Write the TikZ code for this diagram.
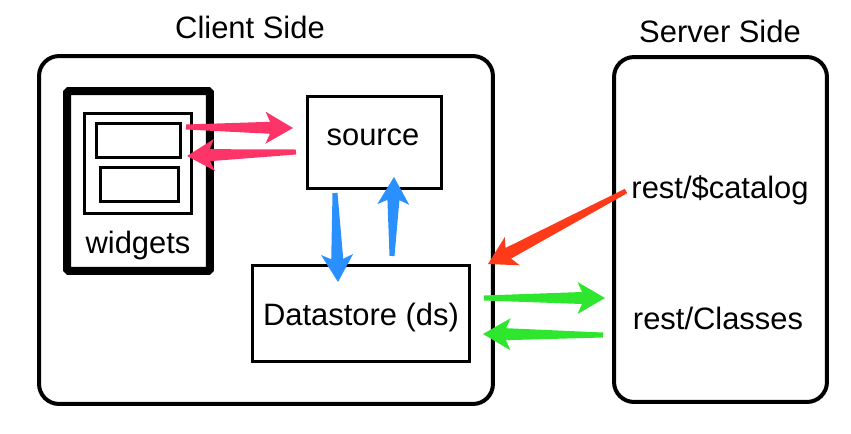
\documentclass[tikz,border=0pt]{standalone}
\usepackage{fontspec}
\setmainfont{Liberation Sans}
\usepackage{tikz}
\usetikzlibrary{calc}
\definecolor{pinkarr}{HTML}{FC3468}
\definecolor{bluearr}{HTML}{2A90FF}
\definecolor{redarr}{HTML}{FF3A18}
\definecolor{greenarr}{HTML}{2EE62E}
% tapered arrow: from, to, colour
\newcommand{\taper}[3]{%
  \fill[#3] ($(#1)!0.05cm!-90:(#2)$) -- ($(#2)!0.46cm!(#1)!0.12cm!90:(#1)$)
    -- ($(#2)!0.55cm!(#1)!0.32cm!90:(#1)$) -- (#2)
    -- ($(#2)!0.55cm!(#1)!0.32cm!-90:(#1)$) -- ($(#2)!0.46cm!(#1)!0.12cm!-90:(#1)$)
    -- ($(#1)!0.05cm!90:(#2)$) -- cycle;}

\begin{document}
\begin{tikzpicture}[x=0.02cm,y=-0.02cm,
			font=\fontsize{17.6pt}{21pt}\selectfont,
			panel/.style={draw,line width=0.08cm,rounded corners=0.4cm},
			box/.style={draw,line width=0.06cm},
			lbl/.style={anchor=base,inner sep=0pt}
			]
			\useasboundingbox (0,0) rectangle (851,433);
			% sides
			\node[panel,minimum width=9.08cm,minimum height=6.96cm] (client) at (266,230) {};
			\node[panel,minimum width=4.26cm,minimum height=6.9cm] (server) at (720.5,229.5) {};
			\node[lbl] (clienttitle) at (250,38) {Client Side};
			\node[lbl] (servertitle) at (720,42) {Server Side};
			% widgets
			\node[draw,line width=0.16cm,rounded corners=1pt,minimum width=2.86cm,minimum height=3.6cm] (widgets) at (138.5,181) {};
			\node[box,minimum width=2.16cm,minimum height=2.02cm] (frame) at (138,163.5) {};
			\node[box,minimum width=1.7cm,minimum height=0.68cm] (wa) at (138.5,140) {};
			\node[box,minimum width=1.58cm,minimum height=0.68cm] (wb) at (139.5,184) {};
			\node[lbl] (wlbl) at (138,253) {widgets};
			% client boxes
			\node[box,minimum width=2.7cm,minimum height=1.86cm] (source) at (374.5,142.5) {};
			\node[lbl] (srclbl) at (373,145) {source};
			\node[box,minimum width=4.36cm,minimum height=1.94cm] (ds) at (361,313.5) {};
			\node[lbl] (dslbl) at (361,325) {Datastore (ds)};
			% server entries
			\node[lbl] (catalog) at (720,198) {rest/\$catalog};
			\node[lbl] (classes) at (718,329) {rest/Classes};
			% arrow ends
			\coordinate (p1a) at (186,127);  \coordinate (p1b) at (293,128);
			\coordinate (p2a) at (296,152);  \coordinate (p2b) at (187,156);
			\coordinate (b1a) at (335,193);  \coordinate (b1b) at (338,282);
			\coordinate (b2a) at (392,256);  \coordinate (b2b) at (394,177);
			\coordinate (ra) at (626,191);   \coordinate (rb) at (488,264);
			\coordinate (g1a) at (484,298);  \coordinate (g1b) at (605,298);
			\coordinate (g2a) at (603,335);  \coordinate (g2b) at (483,334);
			\taper{p1a}{p1b}{pinkarr}
			\taper{p2a}{p2b}{pinkarr}
			\taper{b1a}{b1b}{bluearr}
			\taper{b2a}{b2b}{bluearr}
			\taper{ra}{rb}{redarr}
			\taper{g1a}{g1b}{greenarr}
			\taper{g2a}{g2b}{greenarr}
		\end{tikzpicture}
\end{document}
